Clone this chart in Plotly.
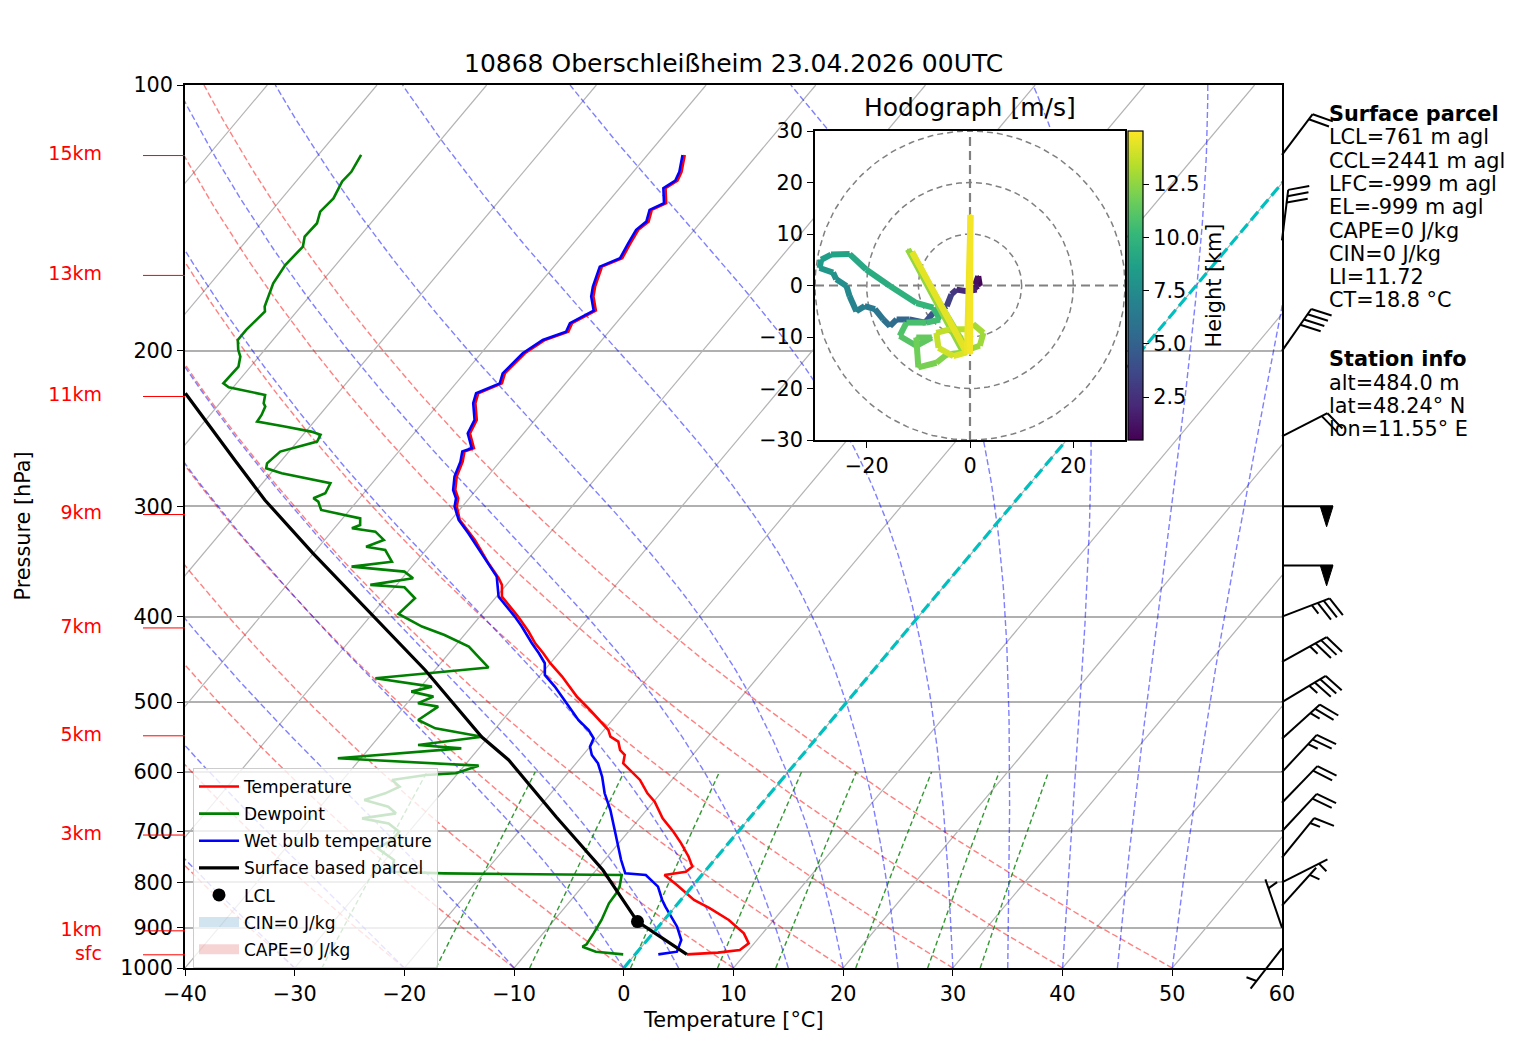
import numpy as np
import plotly.graph_objects as go
from plotly.colors import sample_colorscale

W, H = 1517, 1054
FONT = "DejaVu Sans"
FS = 20.8

# boxes in pixels: left, top, right, bottom
MAIN = (185, 85, 1282, 968)
HODO = (815, 131, 1125, 440)
BARB = (1240, 80, 1370, 1000)
PX_DEC = MAIN[3] - MAIN[1]   # pixels per decade of pressure
SKEW = 67.5                  # degC of x shift per decade of pressure

# ---------------- sounding (hPa, degC) ----------------
temp_p = [120.0, 125.4, 128.3, 130.9, 136.1, 138.5, 142.8, 145.9, 151.1, 157.1,
          160.6, 169.2, 173.6, 180.1, 186.1, 190.3, 194.4, 201.3, 212.1, 217.7,
          223.4, 229.3, 239.5, 248.0, 257.8, 260.1, 267.0, 277.6, 287.5, 293.8,
          300.2, 310.9, 327.5, 347.9, 361.9, 368.2, 379.7, 389.7, 400.0, 415.9,
          428.8, 440.1, 451.7, 467.7, 493.0, 510.3, 526.1, 537.6, 547.1, 554.2,
          566.4, 573.8, 586.4, 599.3, 612.4, 634.1, 648.1, 676.9, 700.8, 722.5,
          748.1, 767.8, 778.0, 784.7, 805.4, 837.5, 855.9, 882.3, 913.7, 937.7,
          954.1, 960.8, 965.0]
temp_t = [-56.6, -55.6, -55.3, -55.8, -54.6, -55.4, -54.8, -55.1, -54.8, -54.4,
          -55.6, -54.7, -54.1, -52.8, -54.0, -53.7, -55.2, -56.0, -56.3, -55.8,
          -57.2, -56.7, -55.3, -54.9, -53.4, -54.0, -53.4, -52.8, -51.9, -51.0,
          -50.5, -49.2, -46.3, -43.3, -41.2, -40.4, -39.5, -38.0, -36.5, -34.4,
          -32.9, -31.4, -30.0, -27.9, -25.0, -22.8, -20.9, -19.6, -18.9, -17.8,
          -17.0, -16.2, -15.7, -14.3, -12.9, -11.2, -9.9, -7.9, -5.9, -4.3,
          -2.6, -1.5, -1.7, -3.4, -1.5, 1.2, 3.3, 5.9, 8.3, 9.5,
          9.2, 7.4, 4.7]

dew_p = [120.0, 125.4, 128.6, 134.4, 139.1, 143.4, 148.5, 152.4, 159.9, 167.7,
         178.2, 180.5, 189.4, 194.4, 199.5, 203.0, 208.4, 217.7, 220.0, 224.4,
         229.3, 231.3, 236.4, 240.5, 243.7, 246.9, 249.0, 253.4, 260.1, 268.2,
         271.7, 275.3, 282.5, 290.0, 293.8, 296.4, 302.9, 309.6, 315.0, 317.7,
         320.5, 327.5, 333.3, 336.2, 346.6, 351.1, 355.7, 361.9, 368.2, 370.5,
         381.3, 397.2, 410.5, 419.6, 432.5, 443.9, 456.8, 469.7, 480.1, 486.4,
         492.8, 501.4, 505.8, 523.8, 535.3, 547.1, 559.1, 564.0, 578.8, 590.0,
         601.9, 604.5, 612.4, 623.2, 634.1, 645.3, 656.6, 668.1, 676.9, 685.8,
         700.8, 716.1, 731.9, 754.6, 778.0, 781.3, 784.7, 808.9, 823.0, 844.8,
         882.3, 913.7, 940.1, 945.9, 958.3, 965.0]
dew_t = [-86.1, -85.7, -85.8, -85.3, -85.5, -84.9, -85.0, -84.4, -84.6, -84.3,
         -83.3, -82.9, -83.2, -83.2, -82.4, -81.7, -81.1, -81.2, -80.4, -76.5,
         -76.0, -75.6, -75.3, -75.2, -72.3, -69.5, -68.4, -68.2, -70.8, -71.1,
         -70.8, -69.0, -63.8, -63.5, -64.2, -63.5, -62.6, -58.4, -57.9, -58.4,
         -56.0, -54.6, -55.7, -53.7, -52.2, -55.5, -50.3, -49.0, -52.4, -49.1,
         -47.3, -47.6, -44.5, -41.8, -38.7, -37.1, -35.3, -44.8, -39.0, -40.5,
         -38.1, -39.0, -36.9, -37.7, -35.5, -30.6, -35.8, -31.6, -42.1, -28.7,
         -30.2, -32.8, -35.5, -34.3, -35.1, -36.5, -33.8, -32.6, -35.3, -32.5,
         -30.9, -30.9, -31.6, -29.2, -28.5, -23.6, -7.3, -6.6, -6.4, -6.3,
         -5.7, -5.4, -5.2, -5.4, -3.8, -1.1]

wet_p = [120.0, 125.4, 128.3, 130.9, 136.1, 138.5, 142.8, 145.9, 151.1, 157.1,
         160.6, 169.2, 173.6, 180.1, 186.1, 190.3, 194.4, 201.3, 212.1, 217.7,
         223.4, 229.3, 239.5, 248.0, 257.8, 260.1, 267.0, 277.6, 287.5, 293.8,
         300.2, 310.9, 321.9, 339.1, 360.4, 379.7, 400.0, 410.5, 428.8, 440.1,
         451.7, 465.7, 480.1, 497.3, 523.8, 537.6, 549.5, 561.5, 573.8, 586.4,
         607.2, 634.1, 662.3, 691.7, 722.5, 754.6, 781.3, 784.7, 808.9, 837.5,
         852.2, 897.9, 929.6, 958.3, 965.0]
wet_t = [-56.8, -55.8, -55.5, -56.0, -54.8, -55.6, -55.0, -55.3, -55.0, -54.6,
         -55.8, -54.9, -54.3, -53.0, -54.2, -53.9, -55.4, -56.2, -56.5, -56.0,
         -57.4, -56.9, -55.5, -55.1, -53.6, -54.2, -53.6, -53.0, -52.1, -51.2,
         -50.7, -49.3, -47.4, -44.7, -41.5, -39.8, -36.8, -35.4, -33.2, -31.8,
         -30.5, -29.6, -27.8, -25.9, -23.1, -21.4, -20.3, -20.0, -19.2, -18.0,
         -16.6, -15.1, -13.3, -11.7, -10.1, -8.5, -7.1, -5.1, -3.1, -1.7,
         -0.9, 1.7, 3.1, 3.6, 2.1]

parcel_p = [965.0, 886.0, 774.5, 674.5, 581.3, 547.6, 459.7, 396.2, 338.8, 295.1, 265.9, 223.4]
parcel_t = [4.7, -2.3, -9.4, -17.7, -26.4, -30.6, -40.9, -50.3, -60.1, -68.5, -74.3, -83.9]
lcl_p, lcl_t = 886.0, -2.3

# height markers on the pressure axis
height_labels = ["15km", "13km", "11km", "9km", "7km", "5km", "3km", "1km", "sfc"]
height_p = [120.2, 164.3, 225.3, 306.5, 412.0, 545.8, 707.0, 907.6, 966.2]

# wind barbs: pressure (hPa), direction (deg), speed (kt)
barb_p = [120, 150, 200, 250, 300, 350, 400, 450, 500, 550, 600, 650, 700, 750, 800, 850, 900, 950]
barb_dir = [37, 7, 35, 63, 90, 90, 69, 61, 59, 48, 43, 44, 43, 39, 63, 42, 341, 218]
barb_spd = [20, 30, 40, 20, 50, 50, 35, 35, 35, 25, 25, 20, 20, 15, 5, 5, 5, 5]

# hodograph (m/s) and height (km)
hodo_u = [1.9, 1.6, 1.0, 1.3, -0.6, -2.6, -3.6, -4.5, -7.1, -8.7, -11.7, -14.2, -15.5, -16.8,
          -18.4, -20.4, -22.0, -23.3, -23.9, -25.9, -26.5, -29.1, -28.8, -26.9, -23.3, -20.1,
          -15.5, -10.4, -7.1, -5.8, -8.4, -12.3, -13.6, -10.4, -7.4, -10.4, -10.0, -6.5, -4.5,
          -1.3, -12.0, -0.5, 1.9, 2.6, 0.6, -0.6, -3.9, -6.5, -6.1, -3.2, -0.6, -11.2, -0.6,
          0.1, 0.0]
hodo_v = [-0.1, 1.8, 0.2, -0.8, -1.1, -0.8, -1.7, -4.0, -5.3, -7.2, -6.6, -6.6, -7.9, -6.6,
          -4.6, -4.0, -5.0, -2.1, -0.1, 1.2, 2.5, 3.4, 5.0, 6.0, 6.1, 3.1,
          -0.1, -3.4, -4.3, -6.6, -7.2, -7.2, -9.8, -11.7, -10.1, -10.1, -15.9, -15.0, -13.4,
          -13.0, 7.0, -12.5, -11.7, -9.2, -7.5, -8.5, -8.5, -9.2, -12.1, -13.7, -13.0, 6.5, -13.2,
          13.7, -13.3]
hodo_h = [0.5, 0.8, 1.2, 1.5, 2.0, 2.5, 3.0, 3.5, 4.0, 4.5, 5.0, 5.5, 5.8, 6.0,
          6.3, 6.6, 6.9, 7.2, 7.5, 7.8, 8.0, 8.3, 8.5, 8.7, 9.0, 9.3,
          9.6, 9.9, 10.2, 10.4, 10.6, 10.8, 11.0, 11.2, 11.4, 11.6, 11.9, 12.1, 12.3,
          12.5, 12.6, 12.7, 12.8, 12.9, 13.1, 13.3, 13.5, 13.7, 13.9, 14.1, 14.3, 14.4, 14.5,
          14.7, 14.9]
H_MIN, H_MAX = 0.48, 15.0
HODO_RANGE = 30

surface_lines = ["LCL=761 m agl", "CCL=2441 m agl", "LFC=-999 m agl", "EL=-999 m agl",
                 "CAPE=0 J/kg", "CIN=0 J/kg", "LI=11.72", "CT=18.8 °C"]
station_lines = ["alt=484.0 m", "lat=48.24° N", "lon=11.55° E"]

title = "10868 Oberschleißheim 23.04.2026 00UTC"

# reference line sets (degC at 1000 hPa, mixing ratio in kg/kg)
dry_t0 = list(range(-40, 51, 10))
moist_t0 = [-40, -30, -20, -10] + list(range(0, 51, 5))
mix_w = [0.0004, 0.001, 0.002, 0.004, 0.007, 0.01, 0.016, 0.024, 0.032]


def xdom(box):
    return [box[0] / W, box[2] / W]


def ydom(box):
    return [1 - box[3] / H, 1 - box[1] / H]


def skew_x(t, p):
    return np.asarray(t, float) + SKEW * np.log10(1000.0 / np.asarray(p, float))


fig = go.Figure()


def bg_line(x, y, color, width, dash=None, **kw):
    fig.add_trace(go.Scatter(x=x, y=y, mode="lines", hoverinfo="skip", showlegend=False,
                             line=dict(color=color, width=width, dash=dash), **kw))


# ---------------- background lines ----------------
p_bg = np.logspace(3, 2, 120)
for t in range(-130, 61, 10):
    bg_line(skew_x([t, t], [1000, 100]), [1000, 100], "#b3b3b3", 1.2)

for t0 in dry_t0:
    t = (t0 + 273.15) * (p_bg / 1000.0) ** 0.2857 - 273.15
    bg_line(skew_x(t, p_bg), p_bg, "rgba(255,0,0,0.5)", 1.4, "6px,3px")


def moist_profile(t0, pres):
    rd, cp, lv, eps = 287.04, 1005.7, 2.501e6, 0.622

    def dtdp(tk, p):
        es = 6.112 * np.exp(17.67 * (tk - 273.15) / (tk - 29.65))
        rs = eps * es / (p - es)
        return (rd * tk + lv * rs) / (cp + lv * lv * rs * eps / (rd * tk * tk)) / p

    tk = t0 + 273.15
    out = [tk]
    for p0, p1 in zip(pres[:-1], pres[1:]):
        h = p1 - p0
        k1 = dtdp(tk, p0)
        k2 = dtdp(tk + h / 2 * k1, p0 + h / 2)
        k3 = dtdp(tk + h / 2 * k2, p0 + h / 2)
        k4 = dtdp(tk + h * k3, p1)
        tk = tk + h / 6 * (k1 + 2 * k2 + 2 * k3 + k4)
        out.append(tk)
    return np.array(out) - 273.15


for t0 in moist_t0:
    bg_line(skew_x(moist_profile(t0, p_bg), p_bg), p_bg, "rgba(0,0,255,0.5)", 1.4, "6px,3px")

p_mix = np.logspace(3, np.log10(600), 30)
for w in mix_w:
    e = w * p_mix / (0.622 + w)
    a = np.log(e / 6.112)
    td = 243.5 * a / (17.67 - a)
    bg_line(skew_x(td, p_mix), p_mix, "rgba(0,128,0,0.8)", 1.4, "5px,3px")

# ---------------- profiles ----------------
profiles = [
    ("Temperature", temp_p, temp_t, "red", 2.6),
    ("Dewpoint", dew_p, dew_t, "green", 2.6),
    ("Wet bulb temperature", wet_p, wet_t, "blue", 2.6),
    ("Surface based parcel", parcel_p, parcel_t, "black", 3.2),
]
for name, p, t, col, lw in profiles:
    fig.add_trace(go.Scatter(x=skew_x(t, p), y=p, mode="lines", name=name, legendgroup=name,
                             line=dict(color=col, width=lw), hoverinfo="skip"))

bg_line(skew_x([0, 0], [1000, 100]), [1000, 100], "#00bfbf", 3.2, "11px,5px")

fig.add_trace(go.Scatter(x=skew_x([lcl_t], [lcl_p]), y=[lcl_p], mode="markers", name="LCL",
                         legendgroup="LCL", marker=dict(color="black", size=13), hoverinfo="skip"))
for name, col in [("CIN=0 J/kg", "rgba(31,119,180,0.2)"), ("CAPE=0 J/kg", "rgba(214,39,40,0.2)")]:
    fig.add_trace(go.Scatter(x=[None], y=[None], mode="lines", name=name, legendgroup=name,
                             line=dict(width=10, color=col)))

# ---------------- height labels (left of axis) ----------------
for lab, p in zip(height_labels, height_p):
    fig.add_trace(go.Scatter(x=[143, MAIN[0]], y=[p, p], mode="lines", xaxis="x4", yaxis="y3",
                             line=dict(color="red", width=1), showlegend=False, hoverinfo="skip"))
fig.add_trace(go.Scatter(x=[102] * len(height_p), y=height_p, mode="text", text=height_labels,
                         textposition="middle left", textfont=dict(color="red", size=19),
                         xaxis="x4", yaxis="y3", showlegend=False, hoverinfo="skip", cliponaxis=False))


# ---------------- wind barbs ----------------
def barb_geometry(direction, speed, length=51.0):
    d = np.radians(direction)
    u, v = -speed * np.sin(d), -speed * np.cos(d)
    th = np.arctan2(v, u) + np.pi / 2
    c, s = np.cos(th), np.sin(th)
    spacing, height, width = 0.125 * length, 0.4 * length, 0.25 * length
    spd = 5 * int(round(speed / 5))
    nflag, rest = divmod(spd, 50)
    nfull, rest = divmod(rest, 10)
    lines = [[(0, 0), (0, length)]]
    flags = []
    off = length
    for _ in range(nflag):
        if off != length:
            off += spacing / 2
        flags.append([(0, off), (height, off - width / 2), (0, off - width), (0, off)])
        off -= width + spacing
    for _ in range(nfull):
        lines.append([(0, off), (height, off + width / 2)])
        off -= spacing
    if rest >= 5:
        if off == length:
            off -= 1.5 * spacing
        lines.append([(0, off), (height / 2, off + width / 4)])

    def rot(poly):
        return [(a * c - b * s, a * s + b * c) for a, b in poly]
    return [rot(l) for l in lines], [rot(f) for f in flags]


bx, by = [], []
for p0, d, sp in zip(barb_p, barb_dir, barb_spd):
    lines, flags = barb_geometry(d, sp)
    for poly in lines:
        bx += [a for a, b in poly] + [None]
        by += [p0 * 10 ** (-b / PX_DEC) for a, b in poly] + [None]
    for poly in flags:
        fig.add_trace(go.Scatter(x=[a for a, b in poly], y=[p0 * 10 ** (-b / PX_DEC) for a, b in poly],
                                 mode="lines", fill="toself", fillcolor="black",
                                 line=dict(color="black", width=1), xaxis="x3", yaxis="y3",
                                 showlegend=False, hoverinfo="skip"))
fig.add_trace(go.Scatter(x=bx, y=by, mode="lines", line=dict(color="black", width=2),
                         xaxis="x3", yaxis="y3", showlegend=False, hoverinfo="skip"))

# ---------------- hodograph ----------------
R = HODO_RANGE
fig.add_trace(go.Scatter(x=[-R, R, R, -R, -R], y=[-R, -R, R, R, -R], mode="lines", fill="toself",
                         fillcolor="white", line=dict(width=0, color="white"),
                         xaxis="x2", yaxis="y2", showlegend=False, hoverinfo="skip"))
ang = np.linspace(0, 2 * np.pi, 181)
for r in (10, 20, 30):
    bg_line(r * np.cos(ang), r * np.sin(ang), "gray", 1.5, "6px,4px", xaxis="x2", yaxis="y2")
bg_line([-R, R], [0, 0], "gray", 2.2, "9px,5px", xaxis="x2", yaxis="y2")
bg_line([0, 0], [-R, R], "gray", 2.2, "9px,5px", xaxis="x2", yaxis="y2")

fig.add_trace(go.Scatter(
    x=hodo_u, y=hodo_v, mode="markers", xaxis="x2", yaxis="y2", showlegend=False, hoverinfo="skip",
    marker=dict(size=2, color=hodo_h, colorscale="Viridis", cmin=H_MIN, cmax=H_MAX, showscale=True,
                colorbar=dict(x=1128 / W, xanchor="left", y=1 - HODO[3] / H, yanchor="bottom",
                              len=(HODO[3] - HODO[1]) / H, lenmode="fraction", thickness=15,
                              xpad=0, ypad=0, outlinewidth=1.2, outlinecolor="black",
                              ticks="outside", ticklen=6, tickcolor="black",
                              tickvals=[2.5, 5, 7.5, 10, 12.5],
                              ticktext=["2.5", "5.0", "7.5", "10.0", "12.5"],
                              tickfont=dict(size=FS, color="black"),
                              title=dict(text="Height [km]", side="right",
                                         font=dict(size=FS, color="black"))))))
mid_h = [(hodo_h[i] + hodo_h[i + 1]) / 2 for i in range(len(hodo_h) - 1)]
seg_cols = sample_colorscale("Viridis", [min(max((h - H_MIN) / (H_MAX - H_MIN), 0), 1) for h in mid_h])
for i, col in enumerate(seg_cols):
    fig.add_trace(go.Scatter(x=hodo_u[i:i + 2], y=hodo_v[i:i + 2], mode="lines",
                             line=dict(color=col, width=6), xaxis="x2", yaxis="y2",
                             showlegend=False, hoverinfo="skip"))

# ---------------- layout ----------------
axis_common = dict(showline=True, linecolor="black", linewidth=1.5, mirror=True, ticks="outside",
                   ticklen=6, tickwidth=1.3, tickcolor="black", zeroline=False, automargin=False,
                   tickfont=dict(size=FS, color="black"))
hidden = dict(visible=False, automargin=False, showgrid=False, zeroline=False)
p_ticks = [100, 200, 300, 400, 500, 600, 700, 800, 900, 1000]
top_log = np.log10(100) - (MAIN[1] - BARB[1]) / PX_DEC
bot_log = np.log10(1000) + (BARB[3] - MAIN[3]) / PX_DEC

fig.update_layout(
    width=W, height=H, margin=dict(l=0, r=0, t=0, b=0, autoexpand=False),
    paper_bgcolor="white", plot_bgcolor="rgba(0,0,0,0)",
    font=dict(family=FONT, size=FS, color="black"),
    xaxis=dict(domain=xdom(MAIN), range=[-40, 60], anchor="y", tickvals=list(range(-40, 61, 10)),
               showgrid=False, **axis_common),
    yaxis=dict(domain=ydom(MAIN), type="log", range=[3, 2], anchor="x", tickvals=p_ticks,
               ticktext=[str(p) for p in p_ticks], showgrid=True, gridcolor="#b0b0b0",
               gridwidth=1.5, **axis_common),
    xaxis2=dict(domain=xdom(HODO), range=[-R, R], anchor="y2", tickvals=[-20, 0, 20],
                showgrid=False, **axis_common),
    yaxis2=dict(domain=ydom(HODO), range=[-R, R], anchor="x2", tickvals=list(range(-30, 31, 10)),
                showgrid=False, **axis_common),
    xaxis3=dict(domain=xdom(BARB), range=[BARB[0] - MAIN[2], BARB[2] - MAIN[2]], anchor="y3", **hidden),
    yaxis3=dict(domain=ydom(BARB), type="log", range=[bot_log, top_log], anchor="x3", **hidden),
    xaxis4=dict(domain=[0, MAIN[0] / W], range=[0, MAIN[0]], anchor="y3", **hidden),
    legend=dict(x=193 / W, y=1 - 768 / H, xanchor="left", yanchor="top",
                bgcolor="rgba(255,255,255,0.8)", bordercolor="#cccccc", borderwidth=1,
                font=dict(size=17), tracegroupgap=2, itemwidth=40),
    showlegend=True,
)

ann = [
    dict(text=title, x=(MAIN[0] + MAIN[2]) / 2 / W, y=1 - 64 / H, font=dict(size=25)),
    dict(text="Temperature [°C]", x=(MAIN[0] + MAIN[2]) / 2 / W, y=1 - 1020 / H),
    dict(text="Pressure [hPa]", x=22 / W, y=1 - (MAIN[1] + MAIN[3]) / 2 / H, textangle=-90),
    dict(text="Hodograph [m/s]", x=(HODO[0] + HODO[2]) / 2 / W, y=1 - 108 / H, font=dict(size=25)),
]
for a in ann:
    fig.add_annotation(xref="paper", yref="paper", showarrow=False, xanchor="center",
                       yanchor="middle", **a)

text_blocks = [("Surface parcel", surface_lines, 114), ("Station info", station_lines, 359.3)]
for head, lines, y0 in text_blocks:
    for i, s in enumerate([f"<b>{head}</b>"] + lines):
        fig.add_annotation(xref="paper", yref="paper", x=1327 / W, y=1 - (y0 + 23.3 * i) / H,
                           text=s, showarrow=False, xanchor="left", yanchor="middle",
                           font=dict(size=FS))

# drop the default page margin so the figure sits at the window origin; no modebar
fig.write_html("out.html", config={"displayModeBar": False},
               post_script="document.body.style.margin='0px';")
